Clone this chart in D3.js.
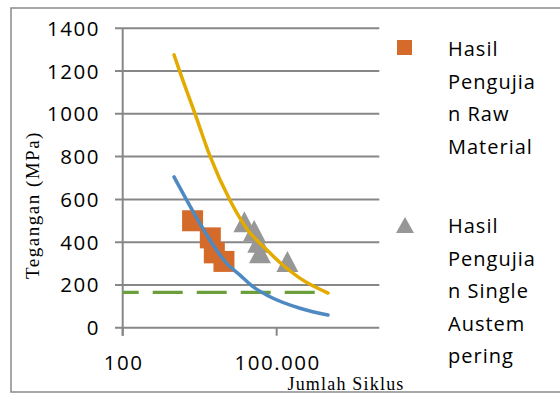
<!DOCTYPE html>
<html>
<head>
<meta charset="utf-8">
<script src="https://cdn.jsdelivr.net/npm/d3@7"></script>
<style>
  body { margin: 0; background: #fff; }
  svg { display: block; }
</style>
</head>
<body>
<div id="chart"></div>
<script>
// values
const rawN = [2300, 5100, 6100, 9400];
const rawS = [500, 420, 350, 310];
const austN = [23500, 36500, 43900, 47300, 162000];
const austS = [495, 455, 400, 350, 310];

// trend curves
const rawFitN = [1000, 3200, 5800, 10600, 19300, 35000, 74000, 285000, 1000000];
const rawFitS = [705, 487, 386, 301, 246, 191, 145, 91, 59];
const austFitN = [1000, 1306, 2560, 5010, 12300, 27500, 64600, 131800, 282000, 1000000];
const austFitS = [1276, 1195, 1001, 803, 596, 456, 363, 293, 232, 162];
const limitN = [100, 1000000];
const limitS = [165, 165];

const yTicks = [0, 200, 400, 600, 800, 1000, 1200, 1400];
const xTicks = [100, 100000];
const legendRaw = ["Hasil", "Pengujia", "n Raw", "Material"];
const legendAust = ["Hasil", "Pengujia", "n Single", "Austem", "pering"];

const width = 560, height = 394;
const svg = d3.select("#chart").append("svg")
  .attr("width", width).attr("height", height);

const x = d3.scaleLog().domain([100, 1e7]).range([122.7, 379.3]);
const y = d3.scaleLinear().domain([0, 1400]).range([327.7, 28.3]);

const grid = "#878787";
const sans = "'Open Sans', 'Liberation Sans', sans-serif";
const serif = "'Liberation Serif', 'Times New Roman', serif";

// chart border
svg.append("path")
  .attr("d", `M${width + 5},8H11V392H${width + 5}`)
  .attr("fill", "none").attr("stroke", "#8a8a8a").attr("stroke-width", 1.5);

// gridlines
svg.append("g").selectAll("line").data(yTicks).join("line")
  .attr("x1", 115).attr("x2", x.range()[1])
  .attr("y1", d => y(d)).attr("y2", d => y(d))
  .attr("stroke", grid).attr("stroke-width", 2);

// y axis line + x ticks
svg.append("line")
  .attr("x1", x(100)).attr("x2", x(100))
  .attr("y1", y(1400)).attr("y2", y(0) + 8)
  .attr("stroke", grid).attr("stroke-width", 2);
svg.append("g").selectAll("line").data(xTicks).join("line")
  .attr("x1", d => x(d)).attr("x2", d => x(d))
  .attr("y1", y(0)).attr("y2", y(0) + 8)
  .attr("stroke", grid).attr("stroke-width", 2);

// tick labels
svg.append("g").selectAll("text").data(yTicks).join("text")
  .attr("x", 100).attr("y", d => y(d) + 7.5)
  .attr("text-anchor", "end")
  .style("font-family", sans).style("font-size", "20.5px")
  .style("letter-spacing", "1.5px").attr("fill", "#000")
  .text(d => d);

const fmt = d => d3.format(",")(d).replace(/,/g, ".");
svg.append("g").selectAll("text").data(xTicks).join("text")
  .attr("x", d => x(d) + 1).attr("y", 369.5)
  .attr("text-anchor", "middle")
  .style("font-family", sans).style("font-size", "20.5px")
  .style("letter-spacing", "1.5px").attr("fill", "#000")
  .text(fmt);

// axis titles
svg.append("text")
  .attr("transform", "translate(39,205) rotate(-90)")
  .attr("text-anchor", "middle")
  .style("font-family", serif).style("font-size", "19px")
  .style("letter-spacing", "1.5px").attr("fill", "#000")
  .text("Tegangan (MPa)");
svg.append("text")
  .attr("x", 346).attr("y", 390)
  .attr("text-anchor", "middle")
  .style("font-family", serif).style("font-size", "18px")
  .style("letter-spacing", "1.2px").attr("fill", "#000")
  .text("Jumlah Siklus");

// markers
const sq = 21;
svg.append("g").selectAll("rect").data(rawN.map((n, i) => [n, rawS[i]])).join("rect")
  .attr("x", d => x(d[0]) - sq / 2).attr("y", d => y(d[1]) - sq / 2)
  .attr("width", sq).attr("height", sq)
  .attr("fill", "#D56B2A");

const tri = (w, h) => `M0,${-h / 2}L${w / 2},${h / 2}L${-w / 2},${h / 2}Z`;
svg.append("g").selectAll("path").data(austN.map((n, i) => [n, austS[i]])).join("path")
  .attr("transform", d => `translate(${x(d[0])},${y(d[1])})`)
  .attr("d", tri(22, 21))
  .attr("fill", "#979797");

// lines
const line = d3.line().x(d => x(d[0])).y(d => y(d[1])).curve(d3.curveMonotoneX);
svg.append("path")
  .datum(limitN.map((n, i) => [n, limitS[i]]))
  .attr("d", d3.line().x(d => x(d[0])).y(d => y(d[1])))
  .attr("fill", "none").attr("stroke", "#6A9F3C").attr("stroke-width", 3.2)
  .attr("stroke-dasharray", "30 14").attr("stroke-dashoffset", 14);
svg.append("path")
  .datum(austFitN.map((n, i) => [n, austFitS[i]]))
  .attr("d", line)
  .attr("fill", "none").attr("stroke", "#E3AA00").attr("stroke-width", 3.5)
  .attr("stroke-linecap", "round");
svg.append("path")
  .datum(rawFitN.map((n, i) => [n, rawFitS[i]]))
  .attr("d", line)
  .attr("fill", "none").attr("stroke", "#4F89C2").attr("stroke-width", 3.5)
  .attr("stroke-linecap", "round");

// legend
const lg = svg.append("g");
lg.append("rect").attr("x", 397).attr("y", 40).attr("width", 15).attr("height", 15)
  .attr("fill", "#D56B2A");
lg.append("path").attr("transform", "translate(405,225)").attr("d", tri(18, 16))
  .attr("fill", "#979797");

function legendText(lines, baseline) {
  lg.append("g").selectAll("text").data(lines).join("text")
    .attr("x", 448).attr("y", (d, i) => baseline + i * 32.5)
    .style("font-family", sans).style("font-size", "20px")
    .style("letter-spacing", "1px").attr("fill", "#000")
    .text(d => d);
}
legendText(legendRaw, 56);
legendText(legendAust, 233);
</script>
</body>
</html>
